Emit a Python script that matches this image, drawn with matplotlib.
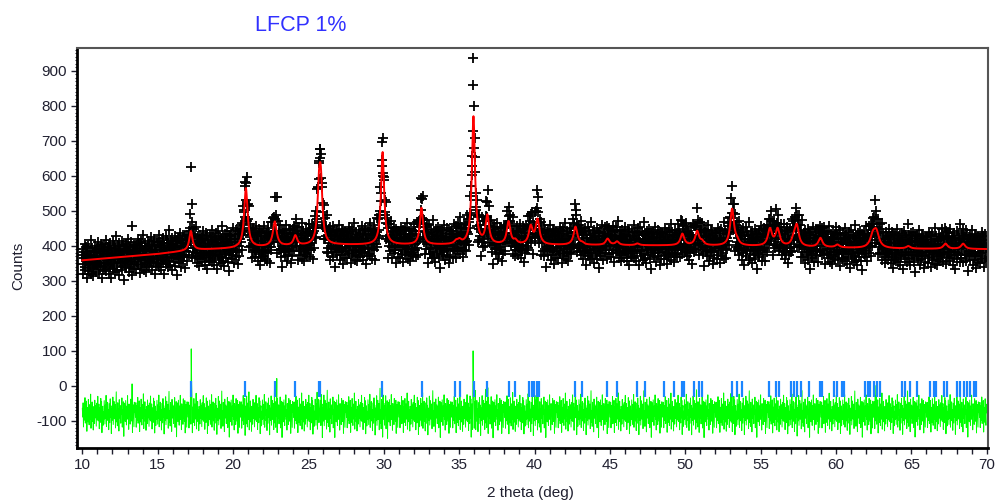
import numpy as np
import matplotlib
matplotlib.use("Agg")
import matplotlib.pyplot as plt
from matplotlib.ticker import MultipleLocator

plt.rcParams['font.family'] = ['Liberation Sans', 'DejaVu Sans']
plt.rcParams['axes.unicode_minus'] = False

# background knots (2theta, counts)
bg_x = [10, 15, 17.5, 20, 23, 27, 35, 45, 50, 55, 60, 62, 65, 70]
bg_y = [358, 376, 388, 392, 398, 402, 402, 401, 400, 398, 394, 392, 391, 390]

# calculated peaks: position, height above background, fwhm
peak_pos = [17.20, 20.85, 22.77, 24.13, 25.70, 25.82, 29.92, 32.50, 34.80, 35.02,
            35.95, 36.87, 38.28, 38.73, 39.75, 40.20, 42.72, 43.16, 44.85, 45.48,
            46.83, 49.81, 50.79, 51.12, 53.11, 53.44, 55.62, 56.13, 57.20, 57.40,
            58.97, 60.10, 62.45, 62.68, 64.80, 67.27, 68.44]
peak_h = [55, 170, 70, 28, 130, 160, 265, 105, 8, 10,
          365, 80, 65, 10, 50, 70, 52, 5, 18, 10,
          5, 33, 40, 10, 105, 10, 48, 48, 18, 58,
          26, 8, 32, 42, 7, 15, 15]
peak_w = [0.25, 0.28, 0.3, 0.28, 0.25, 0.25, 0.25, 0.25, 0.28, 0.28,
          0.25, 0.28, 0.28, 0.28, 0.3, 0.3, 0.3, 0.28, 0.3, 0.3,
          0.3, 0.3, 0.3, 0.3, 0.3, 0.3, 0.32, 0.32, 0.32, 0.32,
          0.32, 0.32, 0.42, 0.42, 0.32, 0.32, 0.32]

# hand-read residual pattern (obs - calc)
resid = [12, -8, 25, -31, 4, 18, -15, 37, -22, 6, -3, 29, -41, 14, 9, -19, 33, -7, -26, 21,
         2, -12, 45, -34, 11, -5, 27, -18, 8, -38, 16, 3, -23, 31, -10, 19, -2, -29, 24, -14,
         7, 40, -17, -6, 22, -35, 13, 1, -20, 35, -9, 28, -44, 10, 17, -27, 5, -13, 30, -1,
         -24, 20, -11, 42, -30, 15, -4, 26, -16, 9, -37, 23, 0, -21, 34, -8, 18, -46, 12, 6,
         -15, 38, -25, 3, 28, -12, -3, 21, -33, 14, 50, -19, 7, -28, 25, -6, 11, -40, 32, -10,
         4, 19, -22, 16, -2, 36, -31, 8, -14, 27, -52, 13, 24, -9, -18, 30, 2, -26, 17, -5,
         41, -13, 9, -36, 22, -1, 15, -24, 33, -11, 6, -17, 29, -43, 10, 20, -7, -30, 26, 3]

# isolated observed points far from the fit
out_x = [13.30, 17.22, 17.25, 22.90, 25.75, 25.80, 29.90, 35.92, 35.945, 35.97, 36.90, 40.15, 42.70, 53.10, 62.60]
out_y = [455, 625, 520, 540, 650, 675, 695, 935, 860, 800, 560, 560, 520, 570, 530]

# reflection markers
hkl_pos = [17.23, 20.82, 22.81, 24.13, 25.68, 25.79, 29.89, 32.54, 34.75, 35.04,
           35.96, 36.85, 38.29, 38.73, 39.61, 39.84, 39.99, 40.17, 40.28, 42.71,
           43.16, 44.82, 45.48, 46.81, 47.36, 48.57, 49.24, 49.79, 49.95, 50.56,
           50.90, 51.12, 53.11, 53.44, 53.78, 55.54, 56.05, 56.21, 57.05, 57.20,
           57.43, 57.69, 58.20, 58.97, 59.10, 59.85, 60.08, 60.41, 60.52, 61.96,
           62.11, 62.29, 62.51, 62.73, 62.91, 64.39, 64.61, 64.94, 65.39, 66.27,
           66.49, 66.67, 67.15, 67.38, 68.04, 68.26, 68.49, 68.71, 68.92, 69.14, 69.32]

tth = np.arange(10.0, 70.001, 0.025)
calc = np.interp(tth, bg_x, bg_y)
for p, h, w in zip(peak_pos, peak_h, peak_w):
    calc = calc + h / (1 + ((tth - p) / (w / 2)) ** 2)

noise = np.resize(np.array(resid, dtype=float), tth.size)
obs = calc + 1.3 * noise * np.sqrt(calc / 400.0)
for ox, oy in zip(out_x, out_y):
    obs[np.argmin(np.abs(tth - ox))] = oy
diff = obs - calc - 80

fig = plt.figure(figsize=(9.97, 5.01), dpi=100)
ax = fig.add_axes([0.0776, 0.106, 0.9137, 0.799])

ax.plot(tth, obs, linestyle='none', marker='+', color='black', markersize=6.5, markeredgewidth=1.3)
ax.plot(tth, calc, color='red', linewidth=1.4)
ax.plot(tth, diff, color='#00ff00', linewidth=0.7)
ax.vlines(hkl_pos, -32, 14, color='#1a85ff', linewidth=1.6)

ax.set_xlim(9.67, 70.11)
ax.set_ylim(-178, 966)
ax.xaxis.set_major_locator(MultipleLocator(5))
ax.xaxis.set_minor_locator(MultipleLocator(1))
ax.yaxis.set_major_locator(MultipleLocator(100))
ax.yaxis.set_minor_locator(MultipleLocator(10))
ax.tick_params(which='major', direction='out', length=4, width=1, labelsize=11, colors='#202030')
ax.tick_params(axis='x', which='minor', direction='out', length=4, width=1, colors='#202030')
ax.tick_params(axis='y', which='minor', direction='out', length=1.5, width=0.8, colors='#202030')

for s in ['left', 'bottom']:
    ax.spines[s].set_linewidth(2)
    ax.spines[s].set_color('black')
for s in ['top', 'right']:
    ax.spines[s].set_linewidth(1.5)
    ax.spines[s].set_color('#555555')

fig.text(0.302, 0.95, 'LFCP 1%', color='#3030ff', fontsize=15.5, ha='center', va='center')
fig.text(0.018, 0.47, 'Counts', rotation=90, fontsize=11, ha='center', va='center', color='#202030')
fig.text(0.532, 0.016, '2 theta (deg)', fontsize=11, ha='center', va='center', color='#202030')

fig.savefig('out.png', dpi=100)
